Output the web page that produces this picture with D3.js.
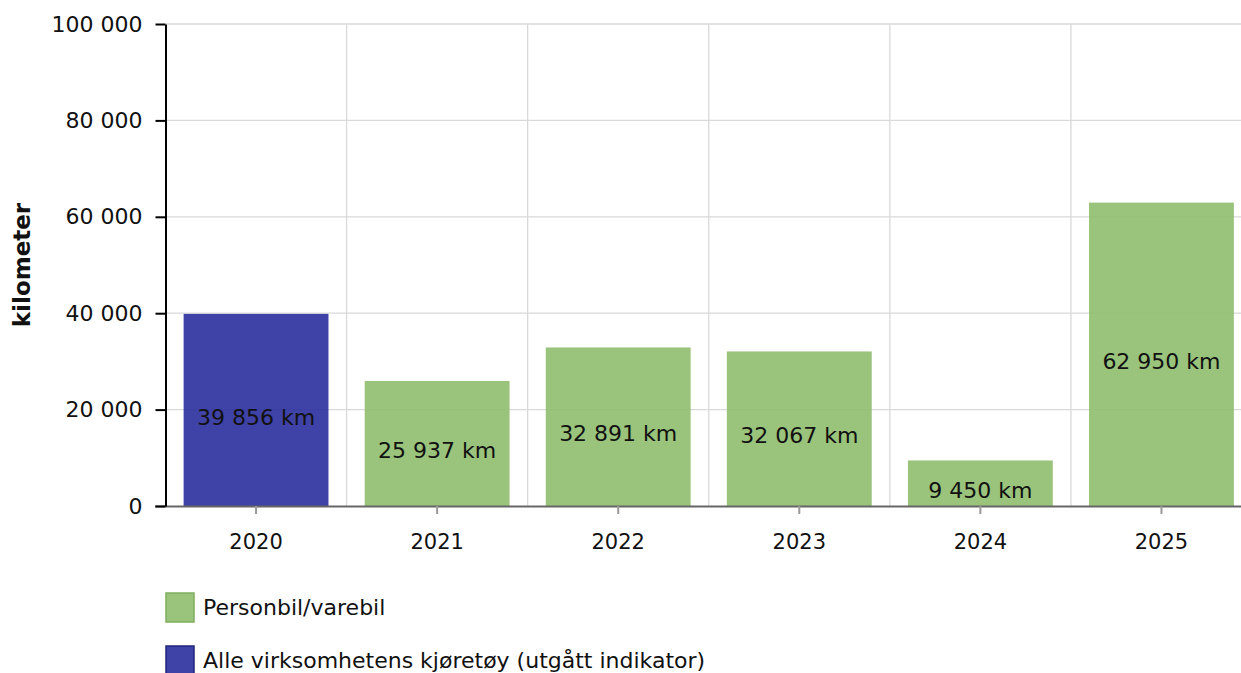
<!DOCTYPE html>
<html>
<head>
<meta charset="utf-8">
<script src="https://cdn.jsdelivr.net/npm/d3@7"></script>
<style>
  body { margin: 0; background: #fff; }
  svg { font-family: Verdana, "DejaVu Sans", sans-serif; }
</style>
</head>
<body>
<div id="chart"></div>
<script>
// data
var years = ["2020", "2021", "2022", "2023", "2024", "2025"]
var distances = [39856, 25937, 32891, 32067, 9450, 62950]
var seriesOf = ["alle", "bil", "bil", "bil", "bil", "bil"]
var yTicks = [0, 20000, 40000, 60000, 80000, 100000]
var legendItems = [
  { key: "bil", label: "Personbil/varebil" },
  { key: "alle", label: "Alle virksomhetens kjøretøy (utgått indikator)" }
]

var width = 1241
var height = 673
var plotLeft = 165.5
var plotTop = 24
var plotBottom = 506

var fills = { bil: "#8fbd6e", alle: "#2a2e9c" }
var strokes = { bil: "#7fae5f", alle: "#22267f" }

var fmt = function(v) { return d3.format(",")(v).replace(/,/g, " ") }

var svg = d3.select("#chart").append("svg")
    .attr("width", width)
    .attr("height", height)

var xScale = d3.scaleBand()
    .domain(years)
    .range([plotLeft, 1252])
    .paddingInner(0.2)
    .paddingOuter(0.1)
var step = xScale.step()

var yScale = d3.scaleLinear()
    .domain([0, 100000])
    .range([plotBottom, plotTop])

//grid lines first so they sit behind the bars
svg.append("g").selectAll("line")
    .data(yTicks.slice(1))
    .enter().append("line")
    .attr("x1", plotLeft)
    .attr("x2", width)
    .attr("y1", function(d) { return yScale(d) })
    .attr("y2", function(d) { return yScale(d) })
    .style("stroke", "#d9d9d9")
    .style("stroke-width", 1.3)

svg.append("g").selectAll("line")
    .data(years.slice(1))
    .enter().append("line")
    .attr("x1", function(d) { return xScale(d) - step * 0.1 })
    .attr("x2", function(d) { return xScale(d) - step * 0.1 })
    .attr("y1", plotTop)
    .attr("y2", plotBottom)
    .style("stroke", "#d9d9d9")
    .style("stroke-width", 1.3)

//bars
svg.append("g").selectAll("rect")
    .data(distances)
    .enter().append("rect")
    .attr("x", function(d, i) { return xScale(years[i]) })
    .attr("y", function(d) { return yScale(d) })
    .attr("width", xScale.bandwidth())
    .attr("height", function(d) { return yScale(0) - yScale(d) })
    .style("fill", function(d, i) { return fills[seriesOf[i]] })
    .style("fill-opacity", 0.9)

//value labels in the middle of each bar
svg.append("g").selectAll("text")
    .data(distances)
    .enter().append("text")
    .attr("x", function(d, i) { return xScale(years[i]) + xScale.bandwidth() / 2 })
    .attr("y", function(d) { return (yScale(d) + yScale(0)) / 2 + 7 })
    .attr("dy", "0.35em")
    .style("text-anchor", "middle")
    .style("font-size", "22px")
    .style("fill", "#111")
    .text(function(d) { return fmt(d) + " km" })

//axes
var xAxis = svg.append("g")
    .attr("transform", "translate(0," + plotBottom + ")")
    .call(d3.axisBottom(xScale).tickSize(8).tickSizeOuter(0))
xAxis.select(".domain").attr("d", "M155,0.5H" + width).style("stroke", "#666").style("stroke-width", 2)
xAxis.selectAll(".tick line").style("stroke", "#999").style("stroke-width", 2)
xAxis.selectAll("text")
    .attr("y", 28)
    .style("font-size", "21px")
    .style("font-family", "Verdana, 'DejaVu Sans', sans-serif")
    .style("fill", "#111")

var yAxis = svg.append("g")
    .attr("transform", "translate(" + plotLeft + ",0)")
    .call(d3.axisLeft(yScale).tickValues(yTicks).tickSize(10).tickSizeOuter(0).tickFormat(fmt))
yAxis.select(".domain").style("stroke", "#000").style("stroke-width", 2)
yAxis.selectAll(".tick line").style("stroke", "#000").style("stroke-width", 2)
yAxis.selectAll("text")
    .attr("x", -23)
    .style("font-size", "22px")
    .style("font-family", "Verdana, 'DejaVu Sans', sans-serif")
    .style("fill", "#111")

svg.append("text")
    .attr("transform", "translate(30," + ((plotTop + plotBottom) / 2) + ") rotate(270)")
    .style("text-anchor", "middle")
    .style("font-size", "23px")
    .style("font-weight", "bold")
    .style("fill", "#111")
    .text("kilometer")

//legend
var legend = svg.append("g").selectAll("g")
    .data(legendItems)
    .enter().append("g")
    .attr("transform", function(d, i) { return "translate(166," + (593 + i * 53) + ")" })

legend.append("rect")
    .attr("width", 28)
    .attr("height", 29)
    .style("fill", function(d) { return fills[d.key] })
    .style("fill-opacity", 0.9)
    .style("stroke", function(d) { return strokes[d.key] })
    .style("stroke-width", 1.5)

legend.append("text")
    .attr("x", 37)
    .attr("y", 14)
    .attr("dy", "0.35em")
    .style("font-size", "22px")
    .style("fill", "#111")
    .text(function(d) { return d.label })
</script>
</body>
</html>
